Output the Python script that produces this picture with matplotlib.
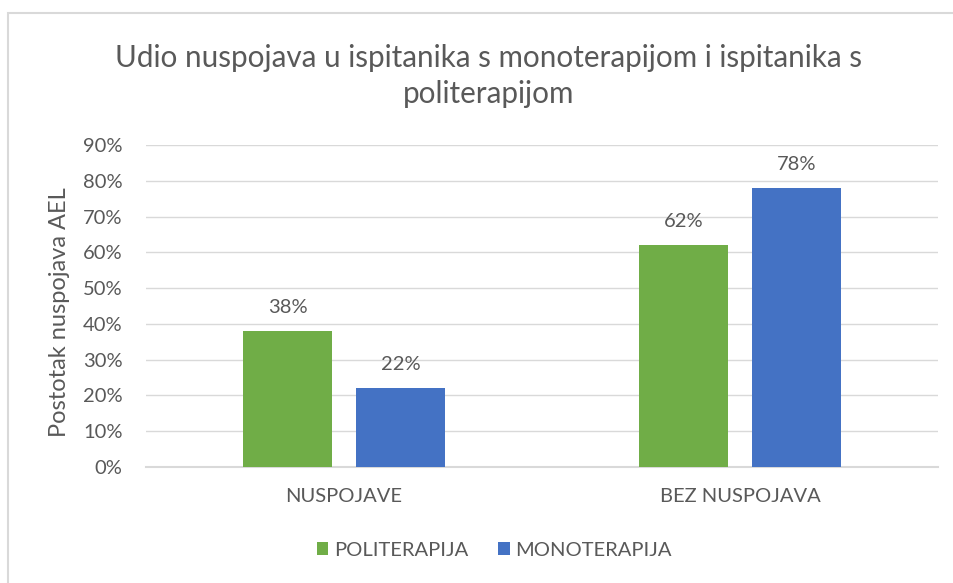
import numpy as np
import matplotlib
matplotlib.use('Agg')
import matplotlib.pyplot as plt
from matplotlib.patches import Rectangle
from matplotlib.ticker import PercentFormatter

# Data

categories = ['NUSPOJAVE', 'BEZ NUSPOJAVA']
politerapija = [38, 62]
monoterapija = [22, 78]
series_names = ['POLITERAPIJA', 'MONOTERAPIJA']
title = 'Udio nuspojava u ispitanika s monoterapijom i ispitanika s\npoliterapijom'
ylabel = 'Postotak nuspojava AEL'

plt.rcParams['font.family'] = ['Lato', 'DejaVu Sans']
txt = '#595959'

fig = plt.figure(figsize = (9.54, 5.83), dpi = 100)
fig.patches.append(Rectangle((8/954, -0.1), 1.2, 1 - 13/583 + 0.1, transform = fig.transFigure,
                             fill = False, edgecolor = '#d9d9d9', linewidth = 1.5))

ax = fig.add_axes([146/954, 116/583, 792/954, 322/583])

x = np.arange(len(categories))
w = 0.225
off = 0.1427
b1 = ax.bar(x - off, politerapija, w, color = '#70ad47', label = series_names[0], zorder = 3)
b2 = ax.bar(x + off, monoterapija, w, color = '#4472c4', label = series_names[1], zorder = 3)

for bars in (b1, b2):
    for b in bars:
        ax.annotate('%d%%' % b.get_height(), (b.get_x() + b.get_width()/2, b.get_height()),
                    xytext = (0, 11), textcoords = 'offset points', ha = 'center', va = 'bottom',
                    fontsize = 14.5, color = txt)

ax.set_xlim(-0.5, 1.5)
ax.set_ylim(0, 90)
ax.set_yticks(np.arange(0, 91, 10))
ax.yaxis.set_major_formatter(PercentFormatter(decimals = 0))
ax.set_xticks(x)
ax.set_xticklabels(categories)
ax.grid(axis = 'y', color = '#d9d9d9', linewidth = 1, zorder = 0)
for s in ['top', 'right', 'left']:
    ax.spines[s].set_visible(False)
ax.spines['bottom'].set_color('#d9d9d9')
ax.spines['bottom'].set_linewidth(1.5)
ax.tick_params(axis = 'both', length = 0, labelsize = 14.5, labelcolor = txt)
ax.tick_params(axis = 'y', pad = 17)
ax.tick_params(axis = 'x', pad = 15)
ax.set_ylabel(ylabel, fontsize = 17, color = txt)
ax.yaxis.set_label_coords(-0.096, 0.48)

fig.text(489/954, 1 - 76/583, title, ha = 'center', va = 'center', fontsize = 21.3,
         color = txt, linespacing = 1.38)

ax.legend(loc = 'center', bbox_to_anchor = (0.44, -0.258), ncol = 2, frameon = False,
          fontsize = 14.5, labelcolor = txt, handlelength = 0.55, handleheight = 0.55,
          handletextpad = 0.3, columnspacing = 1.5)

plt.savefig('out.png', dpi = 100)
